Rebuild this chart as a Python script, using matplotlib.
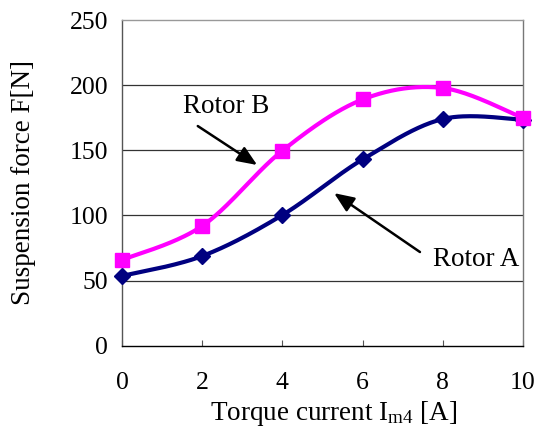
import numpy as np
import matplotlib
matplotlib.use("Agg")
import matplotlib.pyplot as plt

# Data
current = [0, 2, 4, 6, 8, 10]
rotor_a = [53.5, 68.8, 100.3, 143, 174, 173.5]
rotor_b = [65.8, 91.9, 149.7, 189, 197.8, 174.8]
xticks = [0, 2, 4, 6, 8, 10]
yticks = [0, 50, 100, 150, 200, 250]

plt.rcParams['font.family'] = ['Liberation Serif', 'DejaVu Serif']
plt.rcParams['mathtext.fontset'] = 'custom'
plt.rcParams['mathtext.rm'] = 'Liberation Serif'
plt.rcParams['mathtext.it'] = 'Liberation Serif:italic'


def smooth(xs, ys, n=40):
    """Excel-like smoothed line: Catmull-Rom Bezier through the given points."""
    P = np.column_stack([xs, ys]).astype(float)
    m = len(P)
    out = [P[0]]
    for i in range(m - 1):
        p0 = P[i - 1] if i > 0 else P[i]
        p1 = P[i]
        p2 = P[i + 1]
        p3 = P[i + 2] if i + 2 < m else P[i + 1]
        c1 = p1 + (p2 - p0) / 6.0
        c2 = p2 - (p3 - p1) / 6.0
        t = np.linspace(0, 1, n)[1:, None]
        seg = ((1 - t) ** 3) * p1 + 3 * ((1 - t) ** 2) * t * c1 + 3 * (1 - t) * t ** 2 * c2 + t ** 3 * p2
        out.extend(seg)
    out = np.array(out)
    return out[:, 0], out[:, 1]


fig = plt.figure(figsize=(5.51, 4.32), dpi=100)
ax = fig.add_axes([0.2214, 0.1998, 0.7278, 0.7539])

for y in [50, 100, 150, 200]:
    ax.axhline(y, color='#333333', lw=0.9, zorder=1)

xa, ya = smooth(current, rotor_a)
xb, yb = smooth(current, rotor_b)
ax.plot(xa, ya, color='#000080', lw=3.0, zorder=3, solid_capstyle='round', clip_on=False)
ax.plot(current, rotor_a, ls='none', marker='D', ms=8, color='#000080', zorder=4, clip_on=False)
ax.plot(xb, yb, color='#FF00FF', lw=3.0, zorder=3, solid_capstyle='round', clip_on=False)
ax.plot(current, rotor_b, ls='none', marker='s', ms=10, color='#FF00FF', zorder=5, clip_on=False)

ax.set_xlim(0, 10)
ax.set_ylim(0, 250)
ax.set_xticks(xticks)
ax.set_yticks(yticks)
ax.set_xticklabels([str(v) for v in xticks], fontsize=18.5)
ax.set_yticklabels([str(v) for v in yticks], fontsize=18.5)
ax.tick_params(axis='x', direction='in', length=4, width=0.8, color='#555555', pad=19)
ax.tick_params(axis='y', length=0, pad=10)

ax.spines['top'].set_color('#999999')
ax.spines['right'].set_color('#777777')
ax.spines['left'].set_color('#555555')
ax.spines['bottom'].set_color('black')
for s in ax.spines.values():
    s.set_linewidth(1.0)

ax.set_xlabel(r'Torque current I$_{\rm m4}$ [A]', fontsize=19.5)
ax.xaxis.set_label_coords(0.529, -0.165)
ax.set_ylabel('Suspension force F[N]', fontsize=19.5)
ax.yaxis.set_label_coords(-0.214, 0.5)

arrow = dict(arrowstyle='-|>,head_length=1.2,head_width=0.5', color='black', lw=1.8,
             shrinkA=0, shrinkB=0)
ax.annotate('', xy=(3.37, 138.7), xytext=(1.89, 168.6), arrowprops=arrow)
ax.text(2.60, 183.6, 'Rotor B', fontsize=19.5, ha='center', va='center')
ax.annotate('', xy=(5.29, 117.1), xytext=(7.43, 71.9), arrowprops=arrow)
ax.text(8.83, 66.5, 'Rotor A', fontsize=19.5, ha='center', va='center')

fig.savefig('out.png', dpi=100)
